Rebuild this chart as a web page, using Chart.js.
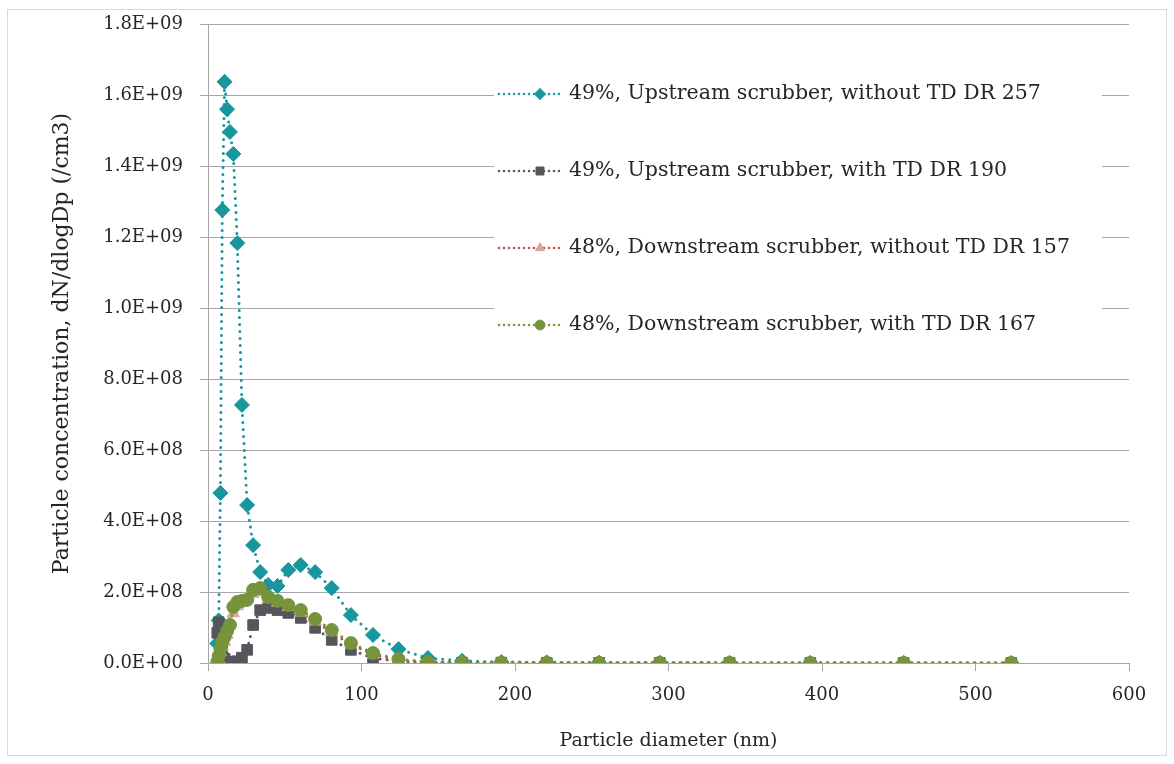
<!DOCTYPE html>
<html>
<head>
<meta charset="utf-8">
<title>Particle size distribution</title>
<script src="https://cdn.jsdelivr.net/npm/chart.js@4.4.1/dist/chart.umd.min.js"></script>
<style>
  html, body { margin: 0; padding: 0; background: #fff; }
  #wrap { position: relative; width: 1174px; height: 764px; }
  #frame { position: absolute; left: 7px; top: 9px; width: 1160px; height: 747px; border: 1px solid #d9d9d9; box-sizing: border-box; }
  #chart { position: absolute; left: 0; top: 0; }
</style>
</head>
<body>
<div id="wrap">
  <div id="frame"></div>
  <canvas id="chart" width="1174" height="764"></canvas>
</div>
<script>
// EEPS channel mid-point diameters (nm)
const diameters = [6.04, 6.98, 8.06, 9.31, 10.8, 12.4, 14.3, 16.5, 19.1, 22.1, 25.5, 29.4, 34.0, 39.2, 45.3, 52.3,
  60.4, 69.8, 80.6, 93.1, 107.5, 124.1, 143.3, 165.5, 191.1, 220.7, 254.8, 294.3, 339.8, 392.4, 453.2, 523.3];

// dN/dlogDp (/cm3)
const upstreamNoTd = [5.5e7, 1.2e8, 4.79e8, 1.276e9, 1.637e9, 1.56e9, 1.496e9, 1.434e9, 1.183e9, 7.27e8, 4.45e8,
  3.32e8, 2.56e8, 2.2e8, 2.17e8, 2.62e8, 2.76e8, 2.56e8, 2.11e8, 1.35e8, 7.9e7, 3.9e7, 1.4e7, 6e6, 3e6, 2e6,
  1e6, 1e6, 5e5, 5e5, 4e5, 3e5];
const upstreamTd = [8.5e7, 1.15e8, 9e7, 4e7, 1.2e7, 4e6, 3e6, 3e6, 5e6, 1.5e7, 3.7e7, 1.07e8, 1.49e8, 1.55e8,
  1.49e8, 1.41e8, 1.27e8, 9.9e7, 6.5e7, 3.7e7, 1.4e7, 5e6, 2e6, 1e6, 1e6, 5e5, 5e5, 5e5, 3e5, 3e5, 2e5, 2e5];
const downstreamNoTd = [2e6, 1e7, 3e7, 4.5e7, 6e7, 8e7, 1.15e8, 1.4e8, 1.6e8, 1.7e8, 1.85e8, 1.95e8, 2.0e8, 1.8e8,
  1.7e8, 1.58e8, 1.42e8, 1.17e8, 8.7e7, 5.2e7, 2.4e7, 9e6, 3e6, 1e6, 1e6, 5e5, 5e5, 5e5, 3e5, 3e5, 2e5, 2e5];
const downstreamTd = [3e6, 2e7, 4e7, 6e7, 7.3e7, 9e7, 1.07e8, 1.58e8, 1.72e8, 1.75e8, 1.78e8, 2.06e8, 2.11e8, 1.86e8,
  1.75e8, 1.63e8, 1.49e8, 1.24e8, 9.3e7, 5.6e7, 2.8e7, 1.1e7, 3e6, 1e6, 1e6, 5e5, 5e5, 5e5, 3e5, 3e5, 2e5, 2e5];

const seriesLabels = [
  '49%, Upstream scrubber, without TD DR 257',
  '49%, Upstream scrubber, with TD DR 190',
  '48%, Downstream scrubber, without TD DR 157',
  '48%, Downstream scrubber, with TD DR 167',
];

const xTicksMax = 600;
const yTicksMax = 1.8e9;

const toPoints = (values) => diameters.map((d, i) => ({ x: d, y: values[i] }));

function sciLabel(v) {
  if (Math.abs(v) < 1) {
    return '0.0E+00';
  }
  const exp = Math.floor(Math.log10(Math.abs(v)) + 1e-9);
  const mant = v / Math.pow(10, exp);
  return `${mant.toFixed(1)}E+${String(exp).padStart(2, '0')}`;
}

const series = [
  { values: upstreamNoTd, line: '#17969D', fill: '#17969D', style: 'rectRot', radius: 7.5, order: 3 },
  { values: upstreamTd, line: '#595959', fill: '#55565B', style: 'rect', radius: 7.5, order: 2 },
  { values: downstreamNoTd, line: '#C0504D', fill: '#D6A7A1', style: 'triangle', radius: 7, order: 1 },
  { values: downstreamTd, line: '#77933C', fill: '#77933C', style: 'circle', radius: 6.5, order: 0 },
];

const dotted = [0, 7];

// legend drawn inside the plot, on a white panel
const insideLegend = {
  id: 'insideLegend',
  afterDraw(chart) {
    const { ctx } = chart;
    const left = 494;
    const top = 68;
    const rowGap = 77;
    ctx.save();
    ctx.fillStyle = '#ffffff';
    ctx.fillRect(left, top, 608, 280);
    series.forEach((s, i) => {
      const y = top + 26 + i * rowGap;
      ctx.save();
      ctx.strokeStyle = s.line;
      ctx.lineWidth = 2.5;
      ctx.lineCap = 'round';
      ctx.setLineDash([0, 5]);
      ctx.beginPath();
      ctx.moveTo(left + 5, y);
      ctx.lineTo(left + 66, y);
      ctx.stroke();
      ctx.restore();
      ctx.fillStyle = s.fill;
      ctx.strokeStyle = s.fill;
      Chart.helpers.drawPoint(ctx, { pointStyle: s.style, radius: s.radius * 0.75, rotation: 0, borderWidth: 1 },
        left + 46, y);
      ctx.fillStyle = '#262626';
      ctx.font = '20.5px "DejaVu Serif", serif';
      ctx.textBaseline = 'middle';
      ctx.textAlign = 'left';
      ctx.fillText(seriesLabels[i], left + 75, y);
    });
    ctx.restore();
  },
};

Chart.defaults.font.family = '"DejaVu Serif", serif';
Chart.defaults.font.size = 18;
Chart.defaults.color = '#262626';

new Chart(document.getElementById('chart'), {
  type: 'line',
  data: {
    datasets: series.map((s, i) => ({
      label: seriesLabels[i],
      data: toPoints(s.values),
      order: s.order,
      borderColor: s.line,
      borderWidth: 3,
      borderDash: dotted,
      borderCapStyle: 'round',
      pointStyle: s.style,
      pointRadius: s.radius,
      pointBackgroundColor: s.fill,
      pointBorderColor: s.fill,
      pointBorderWidth: 1,
      tension: 0,
      fill: false,
    })),
  },
  options: {
    responsive: false,
    animation: false,
    devicePixelRatio: 1,
    layout: { padding: { left: 40, right: 45, top: 24, bottom: 12 } },
    plugins: {
      legend: { display: false },
      tooltip: { enabled: false },
    },
    scales: {
      x: {
        type: 'linear',
        min: 0,
        max: xTicksMax,
        ticks: { stepSize: 100, padding: 14 },
        grid: { drawOnChartArea: false, tickLength: 8, color: '#a6a6a6' },
        border: { color: '#a6a6a6' },
        title: { display: true, text: 'Particle diameter (nm)', font: { size: 19 }, padding: { top: 4, bottom: 0 } },
        afterFit(scale) { scale.height = 89; },
      },
      y: {
        min: 0,
        max: yTicksMax,
        ticks: { stepSize: 2e8, padding: 17, callback: (v) => sciLabel(v) },
        grid: { color: '#a6a6a6', tickLength: 8 },
        border: { color: '#a6a6a6' },
        title: {
          display: true,
          text: 'Particle concentration, dN/dlogDp (/cm3)',
          font: { size: 22 },
          padding: { top: 9, bottom: 0 },
        },
        afterFit(scale) {
          scale.width = 168;
          // the top label only needs half its height above the plot
          scale.paddingTop = 11;
        },
      },
    },
  },
  plugins: [insideLegend],
});
</script>
</body>
</html>
